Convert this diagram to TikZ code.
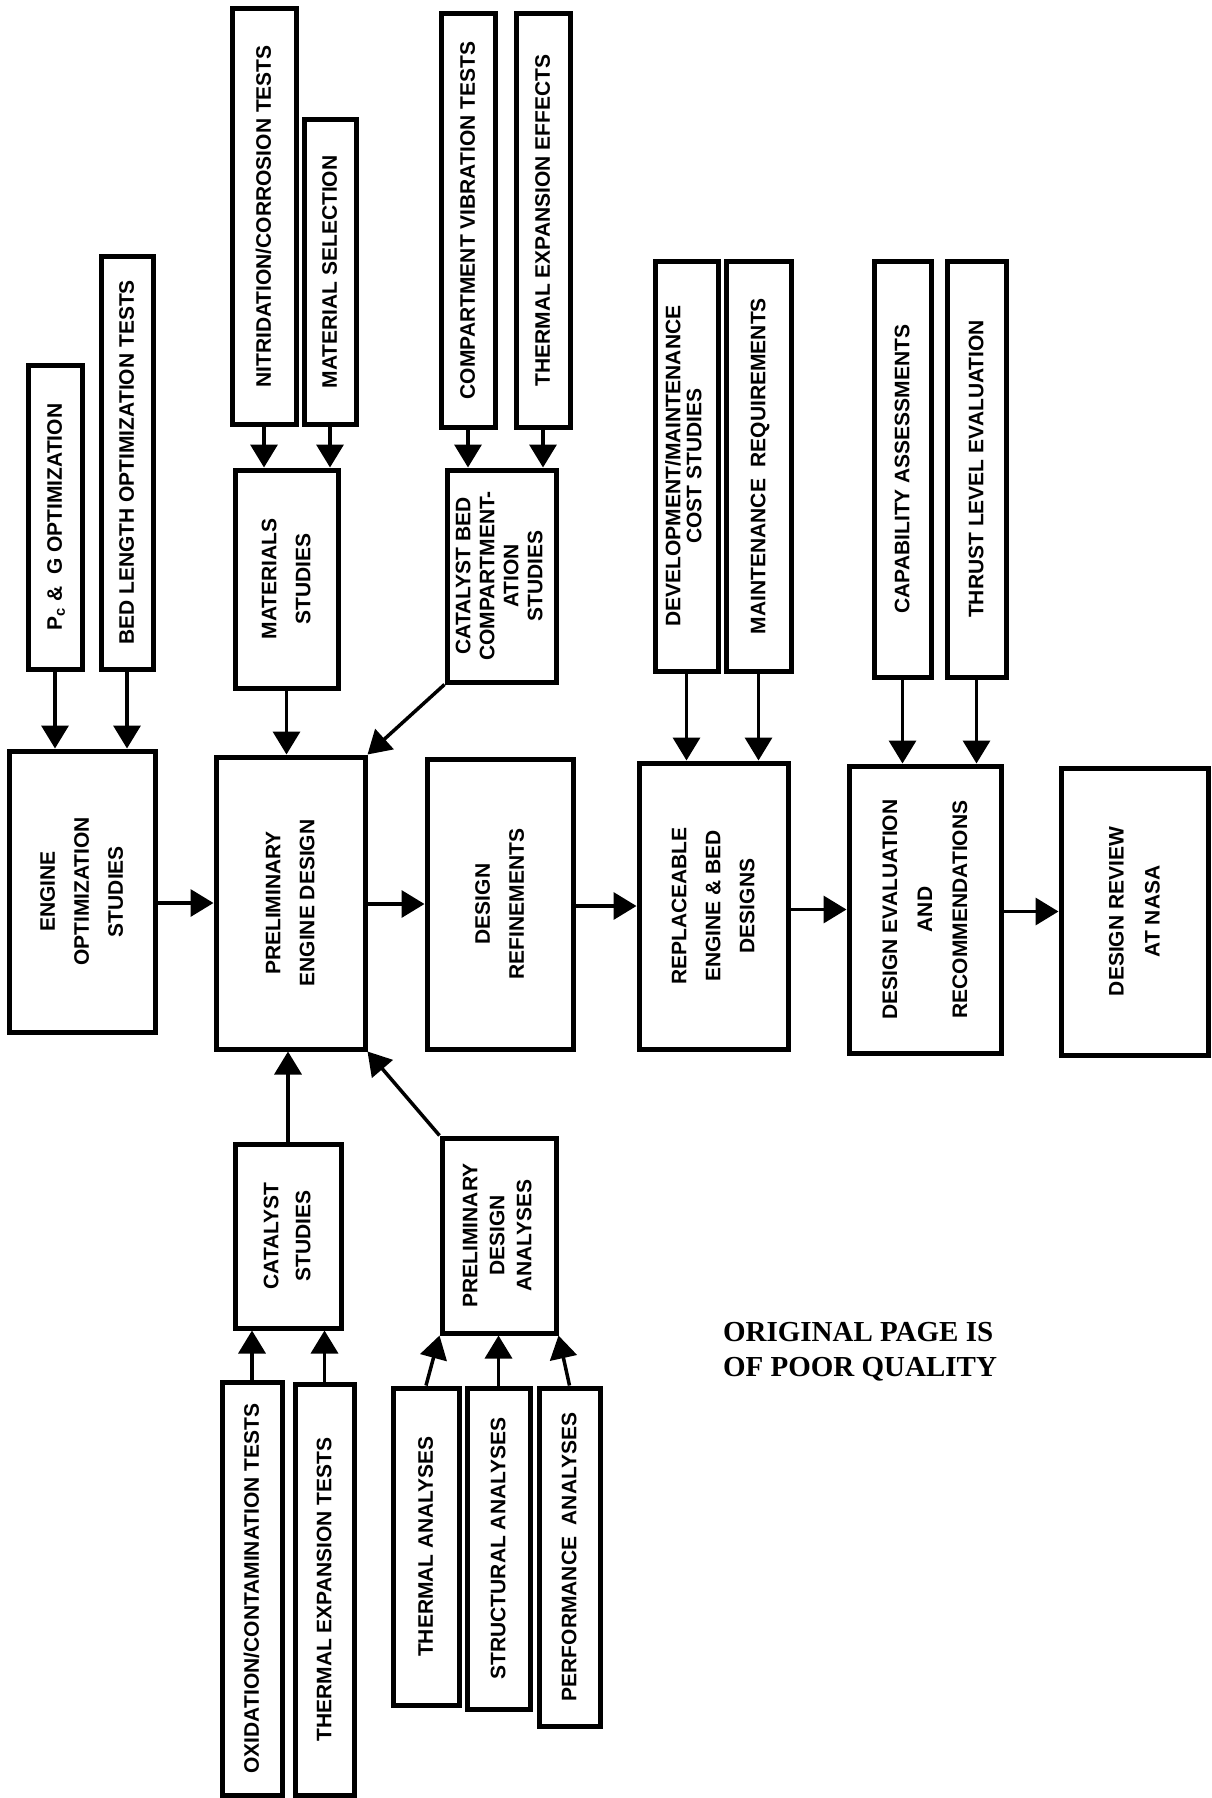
\documentclass[tikz,border=0pt]{standalone}
\usepackage{fontspec}
\usepackage{graphicx}
\newfontfamily\boxfont{Liberation Sans}
\newfontfamily\notefont{Liberation Serif}
\usetikzlibrary{arrows.meta}
\tikzstyle{base}=[x=1pt, y=-1pt]
\tikzstyle{box}=[draw, line width=5pt, inner sep=0pt, font=\boxfont\bfseries]
\tikzstyle{link}=[line width=3.5pt, -{Triangle[width=27pt,length=23pt]}]
\newcommand*{\vlabel}[2][34]{\rotatebox{90}{\fontsize{21}{#1}\selectfont\begin{tabular}{@{}c@{}}#2\end{tabular}}}

\begin{document}
\begin{tikzpicture}[base]
    \path [use as bounding box, fill=white] (0,0) rectangle (1211,1798);
        \node [box, minimum width=54, minimum height=304] (pc) at (55,517) {\vlabel{P\textsubscript{c} \& \ G OPTIMIZATION}};
        \node [box, minimum width=52, minimum height=413] (bedlen) at (127,462.5) {\vlabel{BED LENGTH OPTIMIZATION TESTS}};
        \node [box, minimum width=64, minimum height=415] (nitrid) at (264,216.5) {\vlabel{NITRIDATION/CORROSION TESTS}};
        \node [box, minimum width=52, minimum height=304] (matsel) at (330,272) {\vlabel{MATERIAL SELECTION}};
        \node [box, minimum width=54, minimum height=413] (compvib) at (468,220.5) {\vlabel{COMPARTMENT VIBRATION TESTS}};
        \node [box, minimum width=54, minimum height=413] (thermeff) at (543,220.5) {\vlabel{THERMAL EXPANSION EFFECTS}};
        \node [box, minimum width=103, minimum height=218] (matstud) at (286.5,579) {\vlabel[34]{MATERIALS\\STUDIES}};
        \node [box, minimum width=109, minimum height=212] (catbed) at (501.5,576) {\vlabel[24]{CATALYST BED\\COMPARTMENT-\\ATION\\STUDIES}};
        \node [box, minimum width=63, minimum height=410] (devcost) at (686.5,466) {\vlabel[21]{DEVELOPMENT/MAINTENANCE\\COST STUDIES}};
        \node [box, minimum width=65, minimum height=410] (maintreq) at (758.5,466) {\vlabel{MAINTENANCE \ REQUIREMENTS}};
        \node [box, minimum width=57, minimum height=416] (capab) at (902.5,469) {\vlabel{CAPABILITY ASSESSMENTS}};
        \node [box, minimum width=59, minimum height=416] (thrust) at (976.5,469) {\vlabel{THRUST LEVEL EVALUATION}};

        \node [box, minimum width=146, minimum height=281] (engopt) at (82,891.5) {\vlabel{ENGINE\\OPTIMIZATION\\STUDIES}};
        \node [box, minimum width=149, minimum height=292] (prelim) at (290.5,903) {\vlabel{PRELIMINARY\\ENGINE DESIGN}};
        \node [box, minimum width=146, minimum height=290] (refine) at (500,904) {\vlabel{DESIGN\\REFINEMENTS}};
        \node [box, minimum width=149, minimum height=286] (replace) at (713.5,906) {\vlabel{REPLACEABLE\\ENGINE \& BED\\DESIGNS}};
        \node [box, minimum width=152, minimum height=287] (evalrec) at (925,909.5) {\vlabel[35]{DESIGN EVALUATION\\AND\\RECOMMENDATIONS}};
        \node [box, minimum width=147, minimum height=287] (review) at (1134.5,911.5) {\vlabel[36]{DESIGN REVIEW\\AT NASA}};

        \node [box, minimum width=106, minimum height=184] (catstud) at (288,1236) {\vlabel[32]{CATALYST\\STUDIES}};
        \node [box, minimum width=114, minimum height=195] (prelimanal) at (499,1235.5) {\vlabel[27]{PRELIMINARY\\DESIGN\\ANALYSES}};
        \node [box, minimum width=60, minimum height=413] (oxid) at (252,1588.5) {\vlabel{OXIDATION/CONTAMINATION TESTS}};
        \node [box, minimum width=59, minimum height=411] (thermtest) at (324.5,1589.5) {\vlabel{THERMAL EXPANSION TESTS}};
        \node [box, minimum width=66, minimum height=317] (thermanal) at (426,1546.5) {\vlabel{THERMAL ANALYSES}};
        \node [box, minimum width=63, minimum height=321] (structanal) at (498.5,1548.5) {\vlabel{STRUCTURAL ANALYSES}};
        \node [box, minimum width=61, minimum height=338] (perfanal) at (569.5,1557) {\vlabel{PERFORMANCE \ ANALYSES}};

        \node [font=\notefont\bfseries\fontsize{29}{35}\selectfont, align=left] (note) at (860,1352) {ORIGINAL PAGE IS\\OF POOR QUALITY};

        \draw [link] (pc.south) -- (pc.south |- engopt.north);
        \draw [link] (bedlen.south) -- (bedlen.south |- engopt.north);
        \draw [link] (nitrid.south) -- (nitrid.south |- matstud.north);
        \draw [link] (matsel.south) -- (matsel.south |- matstud.north);
        \draw [link] (compvib.south) -- (compvib.south |- catbed.north);
        \draw [link] (thermeff.south) -- (thermeff.south |- catbed.north);
        \draw [link] (matstud.south) -- (matstud.south |- prelim.north);
        \draw [link] (catbed.south west) -- (prelim.north east);
        \draw [link] (devcost.south) -- (devcost.south |- replace.north);
        \draw [link] (maintreq.south) -- (maintreq.south |- replace.north);
        \draw [link] (capab.south) -- (capab.south |- evalrec.north);
        \draw [link] (thrust.south) -- (thrust.south |- evalrec.north);

        \draw [link] (engopt.east |- prelim.west) -- (prelim.west);
        \draw [link] (prelim.east |- refine.west) -- (refine.west);
        \draw [link] (refine.east |- replace.west) -- (replace.west);
        \draw [link] (replace.east |- evalrec.west) -- (evalrec.west);
        \draw [link] (evalrec.east |- review.west) -- (review.west);

        \draw [link] (catstud.north) -- (catstud.north |- prelim.south);
        \draw [link] (prelimanal.north west) -- (prelim.south east);
        \draw [link] (oxid.north) -- (oxid.north |- catstud.south);
        \draw [link] (thermtest.north) -- (thermtest.north |- catstud.south);
        \draw [link] (thermanal.north) -- (prelimanal.south west);
        \draw [link] (structanal.north) -- (structanal.north |- prelimanal.south);
        \draw [link] (perfanal.north) -- (prelimanal.south east);
    \end{tikzpicture}
\end{document}
